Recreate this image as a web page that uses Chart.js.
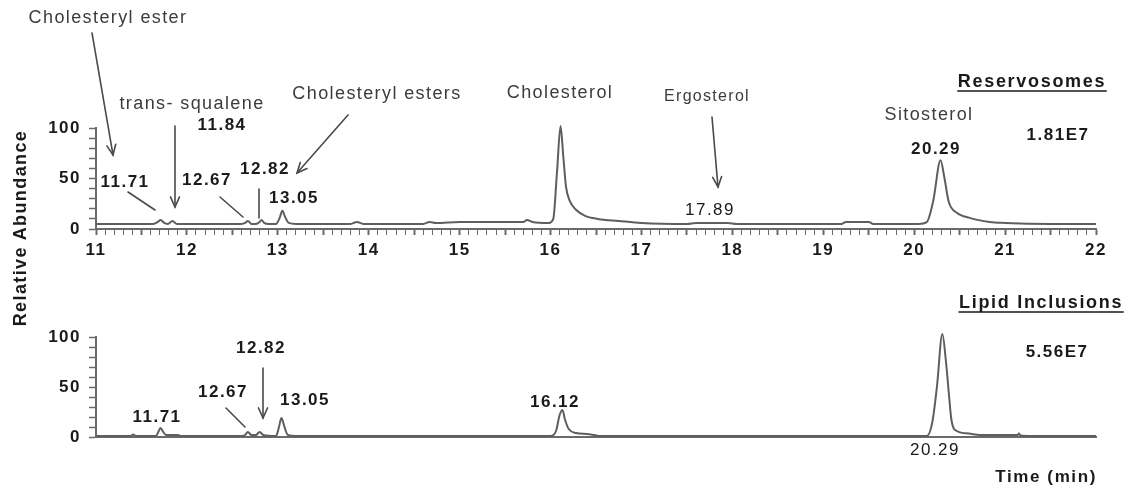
<!DOCTYPE html>
<html>
<head>
<meta charset="utf-8">
<script src="https://cdn.jsdelivr.net/npm/chart.js@4.4.1/dist/chart.umd.min.js"></script>
<style>
  html, body { margin: 0; padding: 0; background: #ffffff; }
  #wrap { position: relative; width: 1128px; height: 488px; overflow: hidden; }
  canvas { position: absolute; left: 0; }
  #cTop { top: 0; }
  #cBot { top: 260px; }
  #ylab {
    position: absolute; left: -89px; top: 217px; width: 220px; height: 22px;
    line-height: 22px; text-align: center; transform: rotate(-90deg);
    font: bold 18px "Liberation Sans", Arial, sans-serif; letter-spacing: 1.4px; color: #1a1a1a;
  }
</style>
</head>
<body>
<div id="wrap">
  <canvas id="cTop" width="1128" height="260"></canvas>
  <canvas id="cBot" width="1128" height="228"></canvas>
  <div id="ylab">Relative Abundance</div>
</div>
<script>
// ---------------- DATA ----------------
// Reservosomes chromatogram (time in min, relative abundance %)
const topTime  = [11.00, 11.50, 11.63, 11.68, 11.71, 11.75, 11.79, 11.84, 11.89, 11.95,
                  12.40, 12.60, 12.64, 12.67, 12.71, 12.76, 12.80, 12.82, 12.85, 12.90,
                  12.98, 13.02, 13.05, 13.08, 13.12, 13.20, 13.80, 13.87, 13.94, 14.60,
                  14.67, 14.74, 15.00, 15.40, 15.70, 15.74, 15.80, 15.98, 16.03, 16.07,
                  16.11, 16.14, 16.17, 16.21, 16.28, 16.38, 16.52, 16.75, 17.00, 17.50,
                  17.60, 17.70, 17.95, 18.05, 18.50, 19.20, 19.25, 19.50, 19.55, 20.05,
                  20.14, 20.21, 20.29, 20.33, 20.38, 20.47, 20.61, 20.83, 21.00, 21.50, 22.00];
const topAbund = [5, 5, 5, 7, 9, 6, 5, 8, 5, 5,
                  5, 5, 6, 8, 5, 5, 7, 9, 6, 5,
                  5, 11, 18, 12, 6, 5, 5, 7, 5, 5,
                  7, 6, 7, 7, 7, 9, 7, 6, 10, 55,
                  102, 72, 42, 28, 19, 13, 10, 8, 6, 5,
                  6, 6, 6, 5, 5, 5, 7, 7, 5, 5,
                  7, 28, 68, 52, 27, 16, 11, 7, 6, 5, 5];

// Lipid inclusions chromatogram
const botTime  = [11.00, 11.38, 11.41, 11.44, 11.66, 11.69, 11.71, 11.74, 11.77, 11.90,
                  11.93, 12.60, 12.64, 12.67, 12.71, 12.76, 12.80, 12.84, 12.98, 13.01,
                  13.04, 13.07, 13.11, 13.20, 16.00, 16.06, 16.10, 16.13, 16.16, 16.20,
                  16.28, 16.40, 16.48, 16.55, 20.14, 20.20, 20.25, 20.31, 20.35, 20.38,
                  20.41, 20.47, 20.60, 20.72, 21.00, 21.14, 21.15, 21.17, 21.30, 22.00];
const botAbund = [1, 1, 2.5, 1, 1, 6, 9, 5, 2, 2,
                  1, 1, 2, 5, 2, 2, 5, 2, 1, 9,
                  19, 11, 2, 1, 1, 6, 22, 27, 17, 8,
                  4, 3, 2, 1, 1, 15, 50, 103, 75, 45,
                  17, 6, 3.5, 2, 2, 2, 3.5, 1.5, 1, 1];

// axis ranges / ticks
const timeRange = [11, 22];
const abundRange = [0, 100];
const abundLabelled = [0, 50, 100];

// annotation texts anchored in data units (time, abundance)
const topLabels = [
  { text: 'Cholesteryl ester',  t: 11.132, v: 208.9, kind: 'name' },
  { text: 'trans- squalene',    t: 12.056, v: 123.8, kind: 'name' },
  { text: '11.84',              t: 12.386, v: 103.0, kind: 'num' },
  { text: 'Cholesteryl esters', t: 14.091, v: 133.7, kind: 'name' },
  { text: '11.71',              t: 11.319, v: 46.5,  kind: 'num' },
  { text: '12.67',              t: 12.221, v: 48.5,  kind: 'num' },
  { text: '12.82',              t: 12.859, v: 59.4,  kind: 'num' },
  { text: '13.05',              t: 13.178, v: 30.7,  kind: 'num' },
  { text: 'Cholesterol',        t: 16.104, v: 134.7, kind: 'name' },
  { text: 'Ergosterol',         t: 17.721, v: 130.7, kind: 'small' },
  { text: '17.89',              t: 17.754, v: 18.8,  kind: 'numLight' },
  { text: 'Sitosterol',         t: 20.163, v: 112.9, kind: 'name' },
  { text: '20.29',              t: 20.240, v: 79.2,  kind: 'num' },
  { text: '1.81E7',             t: 21.582, v: 93.1,  kind: 'num' },
  { text: 'Reservosomes',       t: 21.296, v: 145.5, kind: 'title' }
];
const topArrows = [
  { t1: 10.956, v1: 194.1, t2: 11.187, v2: 73.3, head: true },
  { t1: 11.869, v1: 102.0, t2: 11.869, v2: 21.8, head: true },
  { t1: 13.772, v1: 112.9, t2: 13.211, v2: 55.4, head: true },
  { t1: 17.776, v1: 110.9, t2: 17.842, v2: 41.6, head: true },
  { t1: 11.352, v1: 36.6,  t2: 11.649, v2: 18.8, head: false },
  { t1: 12.364, v1: 31.7,  t2: 12.617, v2: 11.9, head: false },
  { t1: 12.793, v1: 39.6,  t2: 12.793, v2: 10.9, head: false }
];
const botLabels = [
  { text: 'Lipid Inclusions', t: 21.396, v: 134, kind: 'title' },
  { text: '5.56E7',           t: 21.572, v: 85,  kind: 'num' },
  { text: '12.82',            t: 12.815, v: 89,  kind: 'num' },
  { text: '12.67',            t: 12.397, v: 45,  kind: 'num' },
  { text: '13.05',            t: 13.299, v: 37,  kind: 'num' },
  { text: '11.71',            t: 11.671, v: 20,  kind: 'num' },
  { text: '16.12',            t: 16.049, v: 35,  kind: 'num' },
  { text: '20.29',            t: 20.229, v: -13, kind: 'numLight' },
  { text: 'Time (min)',       t: 21.451, v: -40, kind: 'axis' }
];
const botArrows = [
  { t1: 12.837, v1: 69, t2: 12.837, v2: 19, head: true },
  { t1: 12.430, v1: 29, t2: 12.639, v2: 10, head: false }
];

// ---------------- STYLES ----------------
const FAM = '"Liberation Sans", Arial, sans-serif';
const textStyles = {
  name:     { font: 'normal 18px ' + FAM, color: '#3c3c3c', ls: '1.4px' },
  small:    { font: 'normal 16px ' + FAM, color: '#3c3c3c', ls: '1.3px' },
  num:      { font: 'bold 17px ' + FAM,   color: '#1a1a1a', ls: '1.5px' },
  numLight: { font: 'normal 17px ' + FAM, color: '#1a1a1a', ls: '1.5px' },
  title:    { font: 'bold 18px ' + FAM,   color: '#1a1a1a', ls: '1.7px', underline: true },
  axis:     { font: 'bold 17px ' + FAM,   color: '#1a1a1a', ls: '1.6px' }
};
const LINE_COLOR = '#5e5e5e';
const AXIS_COLOR = '#6a6a6a';

function annotationPlugin(labels, arrows) {
  return {
    id: 'annot',
    beforeDraw(chart) { chart.ctx.letterSpacing = '1.5px'; },
    afterDraw(chart) {
      const ctx = chart.ctx;
      const xs = chart.scales.x, ys = chart.scales.y;
      ctx.save();
      // arrows / leader lines
      ctx.strokeStyle = '#4a4a4a';
      ctx.lineWidth = 1.6;
      ctx.lineCap = 'round';
      arrows.forEach(a => {
        const x1 = xs.getPixelForValue(a.t1), y1 = ys.getPixelForValue(a.v1);
        const x2 = xs.getPixelForValue(a.t2), y2 = ys.getPixelForValue(a.v2);
        ctx.beginPath(); ctx.moveTo(x1, y1); ctx.lineTo(x2, y2); ctx.stroke();
        if (a.head) {
          const ang = Math.atan2(y2 - y1, x2 - x1), L = 11, sp = 0.42;
          ctx.beginPath();
          ctx.moveTo(x2 - L * Math.cos(ang - sp), y2 - L * Math.sin(ang - sp));
          ctx.lineTo(x2, y2);
          ctx.lineTo(x2 - L * Math.cos(ang + sp), y2 - L * Math.sin(ang + sp));
          ctx.stroke();
        }
      });
      // texts
      ctx.textAlign = 'center';
      ctx.textBaseline = 'middle';
      labels.forEach(l => {
        const st = textStyles[l.kind];
        ctx.font = st.font;
        ctx.letterSpacing = st.ls;
        ctx.fillStyle = st.color;
        const x = xs.getPixelForValue(l.t), y = ys.getPixelForValue(l.v);
        ctx.fillText(l.text, x, y);
        if (st.underline) {
          const w = ctx.measureText(l.text).width;
          ctx.strokeStyle = st.color; ctx.lineWidth = 1.5;
          ctx.beginPath(); ctx.moveTo(x - w / 2, y + 9); ctx.lineTo(x + w / 2, y + 9); ctx.stroke();
        }
      });
      ctx.restore();
      ctx.letterSpacing = '0px';
    }
  };
}

function yScale(width) {
  return {
    type: 'linear', min: abundRange[0], max: abundRange[1],
    afterFit: s => { s.width = width; },
    ticks: {
      stepSize: 10, autoSkip: false, padding: 8,
      font: { family: FAM, size: 17, weight: 'bold' }, color: '#1a1a1a',
      callback: v => abundLabelled.includes(Math.round(v)) ? String(Math.round(v)) : ''
    },
    grid: { display: true, drawOnChartArea: false, drawTicks: true, tickLength: 7, tickColor: AXIS_COLOR, tickWidth: 1.5 },
    border: { display: true, color: AXIS_COLOR, width: 2 }
  };
}

function makeChart(id, times, abund, xOpts, padTop, labels, arrows) {
  const pts = times.map((t, i) => ({ x: t, y: abund[i] }));
  return new Chart(document.getElementById(id), {
    type: 'line',
    data: { datasets: [{ data: pts, borderColor: LINE_COLOR, borderWidth: 2, pointRadius: 0,
                         cubicInterpolationMode: 'monotone', fill: false, clip: false }] },
    options: {
      responsive: false, animation: false, devicePixelRatio: 1,
      layout: { padding: { left: 0, right: 32, top: padTop, bottom: 0 } },
      plugins: { legend: { display: false }, tooltip: { enabled: false } },
      scales: { x: xOpts, y: yScale(96) }
    },
    plugins: [annotationPlugin(labels, arrows)]
  });
}

const xTop = {
  type: 'linear', min: timeRange[0], max: timeRange[1],
  afterFit: s => { s.height = 31; },
  ticks: {
    stepSize: 0.1, autoSkip: false, maxRotation: 0, padding: 5,
    font: { family: FAM, size: 17, weight: 'bold' }, color: '#1a1a1a',
    callback: v => Math.abs(v - Math.round(v)) < 1e-6 ? String(Math.round(v)) : ''
  },
  grid: {
    display: true, drawOnChartArea: false, drawTicks: true, tickLength: 6, tickColor: AXIS_COLOR,
    tickWidth: c => (Math.abs(c.tick.value * 2 - Math.round(c.tick.value * 2)) < 1e-6 ? 2 : 1)
  },
  border: { display: true, color: AXIS_COLOR, width: 2 }
};
const xBot = {
  type: 'linear', min: timeRange[0], max: timeRange[1],
  afterFit: s => { s.height = 51; },
  ticks: { display: false },
  grid: { display: false },
  border: { display: true, color: AXIS_COLOR, width: 2 }
};

makeChart('cTop', topTime, topAbund, xTop, 128, topLabels, topArrows);
makeChart('cBot', botTime, botAbund, xBot, 77, botLabels, botArrows);
</script>
</body>
</html>
